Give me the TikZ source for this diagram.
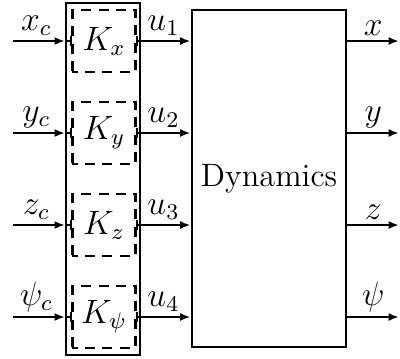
\documentclass[tikz,border=0pt]{standalone}
\usetikzlibrary{arrows.meta,positioning}

\begin{document}
\begin{tikzpicture}[x=0.0125cm,y=-0.0125cm,line width=0.75pt,
  font=\fontsize{11.5}{13}\selectfont,
  ctrl/.style={draw,dash pattern=on 3.6pt off 2.6pt,dash phase=1.8pt,
    minimum width=0.7875cm,minimum height=0.775cm,inner sep=0pt},
  frame/.style={draw,minimum width=0.925cm,minimum height=4.4cm},
  plant/.style={draw,minimum width=1.9cm,minimum height=4.2125cm},
  sig/.style={-{Latex[length=1.3mm,width=1mm]}},
  lbl/.style={above,inner sep=1.5pt},
]
  \useasboundingbox (0,0) rectangle (400,358);
  \node[frame] (box) at (103,179) {};
  \node[plant] (dyn) at (269,178.5) {Dynamics};

  \foreach \i/\v in {1/x,2/y,3/z,4/\psi}{
    \node[ctrl] (k\i) at (104,{41+92*(\i-1)}) {$K_{\v}$};
    \coordinate (in\i) at (13,{41+92*(\i-1)});
    \coordinate (out\i) at (399,{41+92*(\i-1)});
    % ports on the dashed boxes
    \draw ([yshift=-0.06cm]k\i.west) -- ([yshift=0.06cm]k\i.west);
    \draw ([yshift=-0.06cm]k\i.east) -- ([yshift=0.06cm]k\i.east);
    \draw[sig] (in\i) -- node[lbl,pos=0.45]{$\v_c$} (in\i -| box.west);
    \draw (in\i -| box.west) -- (k\i.west);
    \draw[sig] (k\i.east) -- node[lbl]{$u_\i$} (k\i.east -| dyn.west);
    \draw[sig] (out\i -| dyn.east) -- node[lbl]{$\v$} (out\i);
  }
\end{tikzpicture}
\end{document}
